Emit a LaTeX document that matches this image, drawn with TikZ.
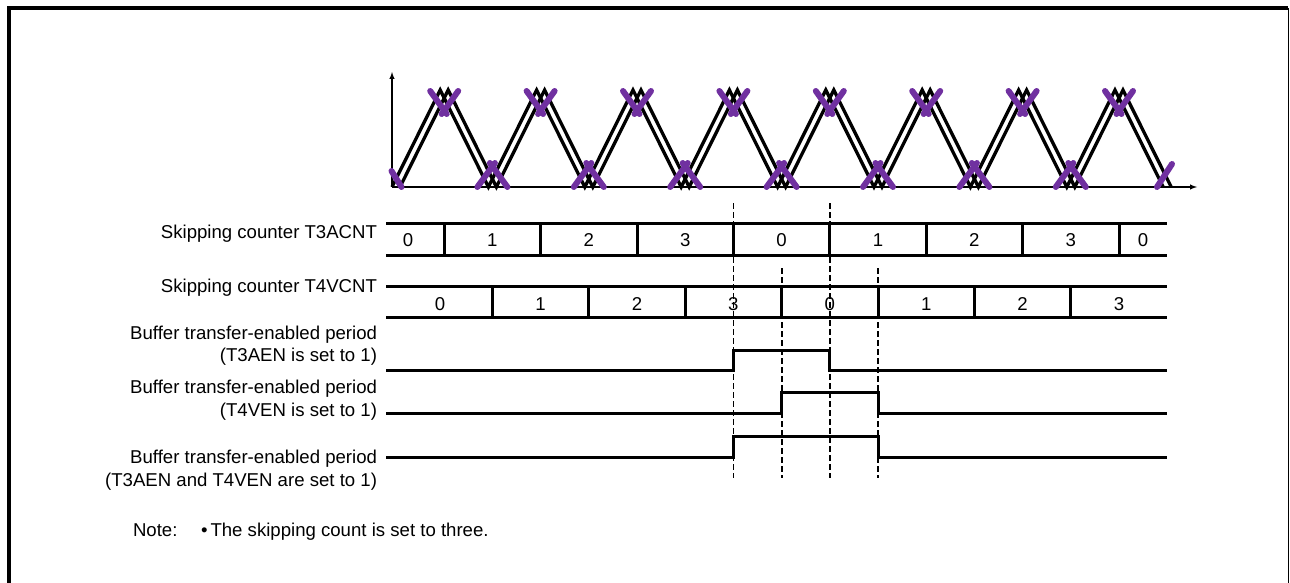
\documentclass[tikz,border=0pt]{standalone}
\usepackage{fontspec}
\setmainfont{Liberation Sans}
\usepackage{tikz}
\definecolor{markpurple}{RGB}{112,48,160}

\begin{document}
\begin{tikzpicture}[x=1pt,y=-1pt,
  txt/.style={font=\fontsize{18.6}{22.4}\selectfont, inner sep=0pt, outer sep=0pt},
  wave/.style={line width=3.3pt, black},
  xmark/.style={line width=6pt, markpurple, line cap=round},
  row/.style={line width=3pt, black},
  sig/.style={line width=3pt, black},
  guide/.style={line width=1.8pt, black, dash pattern=on 6pt off 3pt},
  axis/.style={line width=1.4pt, black}]
\useasboundingbox (0,0) rectangle (1290,583);

% frame
\draw[line width=4pt] (8.5,583) -- (8.5,8.5) -- (1288,8.5);
\draw[line width=1.5pt] (1288.5,8.5) -- (1288.5,583);

% carriers
\draw [axis,-latex] (392,187) -- (392,72);
\draw [axis,-latex] (392,187) -- (1197,187);

\draw [wave] plot coordinates {(392,187) (440.2,90) (488.4,187) (536.6,90) (584.8,187) (633,90) (681.2,187) (729.4,90) (777.6,187) (825.8,90) (874,187) (922.2,90) (970.4,187) (1018.6,90) (1066.8,187) (1115,90) (1163.2,187)};
\draw [wave] plot coordinates {(400,187) (448.2,90) (496.4,187) (544.6,90) (592.8,187) (641,90) (689.2,187) (737.4,90) (785.6,187) (833.8,90) (882,187) (930.2,90) (978.4,187) (1026.6,90) (1074.8,187) (1123,90) (1171.2,187)};

\foreach \x in {444.2,540.6,637,733.4,829.8,926.2,1022.6,1119}{
  \draw [xmark] (\x-14,91) -- (\x+2.5,114);
  \draw [xmark] (\x+14,91) -- (\x-2.5,114);
}
\foreach \x in {492.4,588.8,685.2,781.6,878,974.4,1070.8}{
  \draw [xmark] (\x-15,187) -- (\x+2.5,163);
  \draw [xmark] (\x+15,187) -- (\x-2.5,163);
}
\draw [xmark] (391.5,171) -- (401.5,187);
\draw [xmark] (1157,187) -- (1172,164);

% skipping counters
\node[txt,anchor=base east] (lblT3) at (377,238) {Skipping counter T3ACNT};
\draw [row] (386,223) -- (1167,223);
\draw [row] (386,255) -- (1167,255);
\foreach \x in {444.2,540.6,637,733.4,829.8,926.2,1022.6,1119}
  \draw [row] (\x,223) -- (\x,255);
\foreach \x/\v [count=\i] in {408/0,492.4/1,588.8/2,685.2/3,781.6/0,878/1,974.4/2,1070.8/3,1143/0}
  \node[txt,anchor=base] (cntA\i) at (\x,246) {\v};

\node[txt,anchor=base east] (lblT4) at (377,292.5) {Skipping counter T4VCNT};
\draw [row] (386,286) -- (1167,286);
\draw [row] (386,317) -- (1167,317);
\foreach \x in {492.4,588.8,685.2,781.6,878,974.4,1070.8}
  \draw [row] (\x,286) -- (\x,317);
\foreach \x/\v [count=\i] in {440/0,540.6/1,637/2,733.4/3,829.8/0,926.2/1,1022.6/2,1119/3}
  \node[txt,anchor=base] (cntB\i) at (\x,310.5) {\v};

% transfer-enabled periods
\node[txt,anchor=base east] (lblEnA) at (377,339) {Buffer transfer-enabled period};
\node[txt,anchor=base east] (lblEnAb) at (377,361.5) {(T3AEN is set to 1)};
\draw [sig] (386,370.5) -- (733.4,370.5) -- (733.4,350) -- (829.8,350) -- (829.8,370.5) -- (1167,370.5);

\node[txt,anchor=base east] (lblEnB) at (377,393) {Buffer transfer-enabled period};
\node[txt,anchor=base east] (lblEnBb) at (377,416.5) {(T4VEN is set to 1)};
\draw [sig] (386,413.5) -- (781.6,413.5) -- (781.6,392) -- (878,392) -- (878,413.5) -- (1167,413.5);

\node[txt,anchor=base east] (lblEnC) at (377,463.5) {Buffer transfer-enabled period};
\node[txt,anchor=base east] (lblEnCb) at (377,486) {(T3AEN and T4VEN are set to 1)};
\draw [sig] (386,457) -- (733.4,457) -- (733.4,436) -- (878,436) -- (878,457) -- (1167,457);

\draw [guide] (733.4,203) -- (733.4,478);
\draw [guide] (829.8,203) -- (829.8,478);
\draw [guide] (781.6,268) -- (781.6,478);
\draw [guide] (878,268) -- (878,478);

\node[txt,anchor=base west] (note) at (133,536) {Note:};
\node[txt,anchor=base west] (noteText) at (201,536) {•\hspace{3pt}The skipping count is set to three.};

\end{tikzpicture}
\end{document}
